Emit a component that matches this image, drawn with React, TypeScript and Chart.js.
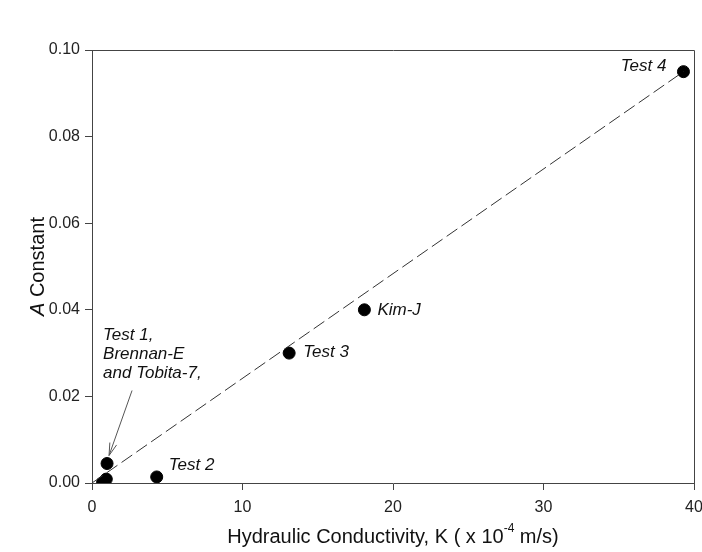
import React, { useEffect, useRef } from "react";
import { Chart, registerables } from "chart.js";
Chart.register(...registerables);

// ---- data ----
const pointNames = ["Test 4", "Kim-J", "Test 3", "Test 2", "Test 1", "Brennan-E", "Tobita-7"];
const kValues = [39.3, 18.1, 13.1, 4.3, 1.0, 0.95, 0.7];
const aValues = [0.095, 0.04, 0.03, 0.0014, 0.0045, 0.0009, 0.0001];
const fitK = [0, 39.3];
const fitA = [0, 0.095];
const xTickValues = [0, 10, 20, 30, 40];
const yTickValues = [0, 0.02, 0.04, 0.06, 0.08, 0.1];
const groupLabelLines = ["Test 1,", "Brennan-E", "and Tobita-7,"];

const xTitleMain = "Hydraulic Conductivity, K ( x 10";
const xTitleSup = "-4";
const xTitleEnd = " m/s)";
const yTitleItalic = "A";
const yTitleRest = " Constant";

// label placement (pixel offsets relative to the point)
const labelStyle = [
  { idx: 0, dx: -17, dy: -5, align: "right" },
  { idx: 1, dx: 13, dy: 0, align: "left" },
  { idx: 2, dx: 14, dy: -1, align: "left" },
  { idx: 3, dx: 12, dy: -12, align: "left" },
];

const FONT = "'Liberation Sans', Arial, sans-serif";

const decorPlugin = {
  id: "decor",
  afterDraw(chart: any) {
    const ctx = chart.ctx;
    const xs = chart.scales.x;
    const ys = chart.scales.y;
    const ca = chart.chartArea;
    ctx.save();
    // frame top & right
    ctx.strokeStyle = "#444";
    ctx.lineWidth = 1;
    ctx.beginPath();
    ctx.moveTo(Math.round(ca.left) + 0.5, Math.round(ca.top) + 0.5);
    ctx.lineTo(Math.round(ca.right) + 0.5, Math.round(ca.top) + 0.5);
    ctx.lineTo(Math.round(ca.right) + 0.5, Math.round(ca.bottom) + 0.5);
    ctx.stroke();

    // point labels
    ctx.fillStyle = "#111";
    ctx.font = `italic 17px ${FONT}`;
    ctx.textBaseline = "middle";
    for (const l of labelStyle) {
      const px = xs.getPixelForValue(kValues[l.idx]);
      const py = ys.getPixelForValue(aValues[l.idx]);
      ctx.textAlign = l.align;
      ctx.fillText(pointNames[l.idx], px + l.dx, py + l.dy);
    }
    // group label with arrow (anchored on Test 1)
    const gx = xs.getPixelForValue(kValues[4]);
    const gy = ys.getPixelForValue(aValues[4]);
    ctx.textAlign = "left";
    groupLabelLines.forEach((t, i) => {
      ctx.fillText(t, gx - 4, gy - 128 + i * 19);
    });
    // arrow
    const sx = gx + 25, sy = gy - 73;
    const tx = gx + 2, ty = gy - 8;
    ctx.strokeStyle = "#555";
    ctx.lineWidth = 1;
    ctx.beginPath();
    ctx.moveTo(sx, sy);
    ctx.lineTo(tx, ty);
    const ang = Math.atan2(ty - sy, tx - sx);
    const hl = 13, ha = 0.28;
    ctx.moveTo(tx, ty);
    ctx.lineTo(tx - hl * Math.cos(ang - ha), ty - hl * Math.sin(ang - ha));
    ctx.moveTo(tx, ty);
    ctx.lineTo(tx - hl * Math.cos(ang + ha), ty - hl * Math.sin(ang + ha));
    ctx.stroke();

    // x title
    ctx.fillStyle = "#111";
    ctx.textBaseline = "middle";
    ctx.textAlign = "left";
    const big = `20px ${FONT}`;
    const small = `12px ${FONT}`;
    ctx.font = big;
    const w1 = ctx.measureText(xTitleMain).width;
    const w3 = ctx.measureText(xTitleEnd).width;
    ctx.font = small;
    const w2 = ctx.measureText(xTitleSup).width;
    const total = w1 + w2 + w3;
    const cx = (ca.left + ca.right) / 2;
    let x0 = cx - total / 2;
    const ty0 = 537;
    ctx.font = big;
    ctx.fillText(xTitleMain, x0, ty0);
    ctx.font = small;
    ctx.fillText(xTitleSup, x0 + w1, ty0 - 8);
    ctx.font = big;
    ctx.fillText(xTitleEnd, x0 + w1 + w2, ty0);

    // y title
    ctx.save();
    ctx.translate(38, (ca.top + ca.bottom) / 2);
    ctx.rotate(-Math.PI / 2);
    ctx.font = `italic 20px ${FONT}`;
    const wa = ctx.measureText(yTitleItalic).width;
    ctx.font = big;
    const wb = ctx.measureText(yTitleRest).width;
    const y0 = -(wa + wb) / 2;
    ctx.font = `italic 20px ${FONT}`;
    ctx.fillText(yTitleItalic, y0, 0);
    ctx.font = big;
    ctx.fillText(yTitleRest, y0 + wa, 0);
    ctx.restore();

    ctx.restore();
  },
};

export default function App() {
  const ref = useRef<HTMLCanvasElement | null>(null);
  useEffect(() => {
    if (!ref.current) return;
    const chart = new Chart(ref.current, {
      type: "scatter",
      data: {
        datasets: [
          {
            type: "line",
            label: "fit",
            data: fitK.map((k, i) => ({ x: k, y: fitA[i] })),
            borderColor: "#333",
            borderWidth: 1,
            borderDash: [13, 5],
            pointRadius: 0,
            fill: false,
          },
          {
            label: "data",
            data: kValues.map((k, i) => ({ x: k, y: aValues[i] })),
            backgroundColor: "#000",
            borderColor: "#000",
            pointRadius: 6,
            pointHoverRadius: 6,
          },
        ],
      } as any,
      options: {
        responsive: false,
        animation: false,
        events: [],
        layout: { padding: { top: 50, right: 8, left: 0, bottom: 0 } },
        plugins: { legend: { display: false }, tooltip: { enabled: false } },
        scales: {
          x: {
            type: "linear",
            min: 0,
            max: 40,
            afterFit: (s: any) => { s.height = 69; s.paddingRight = 0; s.paddingLeft = 0; },
            afterBuildTicks: (s: any) => { s.ticks = xTickValues.map((v) => ({ value: v })); },
            ticks: {
              color: "#222",
              font: { family: FONT, size: 16 },
              padding: 8,
              maxRotation: 0,
              callback: (v: any) => String(v),
            },
            grid: { display: true, drawOnChartArea: false, drawTicks: true, tickLength: 7, color: "#444" },
            border: { display: true, color: "#444", width: 1 },
          },
          y: {
            type: "linear",
            min: 0,
            max: 0.1,
            afterFit: (s: any) => { s.width = 92; s.paddingTop = 0; s.paddingBottom = 0; },
            afterBuildTicks: (s: any) => { s.ticks = yTickValues.map((v) => ({ value: v })); },
            ticks: {
              color: "#222",
              font: { family: FONT, size: 16 },
              padding: 5,
              callback: (v: any) => Number(v).toFixed(2),
            },
            grid: { display: true, drawOnChartArea: false, drawTicks: true, tickLength: 7, color: "#444" },
            border: { display: true, color: "#444", width: 1 },
          },
        },
      } as any,
      plugins: [decorPlugin],
    });
    return () => chart.destroy();
  }, []);
  return (
    <div style={{ position: "fixed", left: 0, top: 0, width: 702, height: 552, background: "#fff" }}>
      <canvas ref={ref} width={702} height={552} style={{ display: "block" }} />
    </div>
  );
}
